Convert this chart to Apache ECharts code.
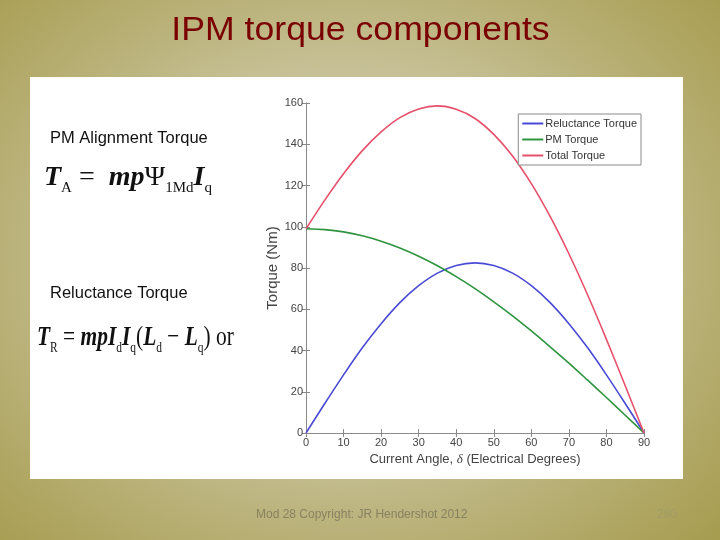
<!DOCTYPE html>
<html><head><meta charset="utf-8">
<script src="https://cdn.jsdelivr.net/npm/echarts@6/dist/echarts.min.js"></script>
<style>
html,body{margin:0;padding:0;width:720px;height:540px;overflow:hidden;}
body{background:radial-gradient(ellipse 75% 80% at 48% 48%, #dcd8c2 0%, #cdc7a4 35%, #b8b076 65%, #a39848 100%);}
#c{width:720px;height:540px;}
</style></head>
<body><div id="c"></div>
<script>
const angles = [0,5,10,15,20,25,30,35,40,45,50,55,60,65,70,75,80,85,90];
const reluctanceTorque = [0,14.3,28.2,41.3,53.0,63.2,71.4,77.5,81.2,82.5,81.2,77.5,71.4,63.2,53.0,41.3,28.2,14.3,0];
const pmTorque = [99,98.6,97.5,95.6,93.0,89.7,85.7,81.1,75.8,70.0,63.6,56.8,49.5,41.8,33.9,25.6,17.2,8.6,0];
const totalTorque = [99,112.9,125.7,136.9,146.0,152.9,157.1,158.6,157.0,152.5,144.8,134.3,120.9,105.0,86.9,66.9,45.4,22.9,0];
const xTicks = [0,10,20,30,40,50,60,70,80,90];
const yTicks = [0,20,40,60,80,100,120,140,160];
const seriesNames = ['Reluctance Torque','PM Torque','Total Torque'];

const pairs = a => angles.map((x,i)=>[x,a[i]]);
const chart = echarts.init(document.getElementById('c'), null, {renderer:'canvas'});
const sans = 'Liberation Sans, Arial';
const serif = 'Liberation Serif, Times New Roman';
const axisLine = {show:true, lineStyle:{color:'#8a8a8a', width:1}};
const tickStyle = {show:true, inside:true, length:4, lineStyle:{color:'#8a8a8a'}};
const lblStyle = {color:'#444', fontSize:11, fontFamily:sans};
const eqRich = {
  t:{fontFamily:serif,fontStyle:'italic',fontWeight:'bold',fontSize:28,fill:'#111'},
  u:{fontFamily:serif,fontSize:28,fill:'#111'},
  s:{fontFamily:serif,fontSize:15,fill:'#111',padding:[20,0,0,0]}
};
chart.setOption({
  backgroundColor:'transparent',
  animation:false,
  graphic:[
    {type:'rect', z:-10, shape:{x:30,y:77,width:653,height:402}, style:{fill:'#ffffff'}},
    {type:'text', x:360.5, y:31, scaleX:1.08, style:{x:0,y:0,text:'IPM torque components', fill:'#7a0000', font:'33px Liberation Sans, Arial', textAlign:'center', textVerticalAlign:'middle'}},
    {type:'text', style:{x:50,y:138,text:'PM Alignment Torque', fill:'#111', font:'16.5px Liberation Sans, Arial', textVerticalAlign:'middle'}},
    {type:'text', x:44, y:178, scaleX:1.0, style:{x:0,y:0,text:'{t|T}{s|A}{u| =  }{t|mp}{u|Ψ}{s|1Md}{t|I}{s|q}', textVerticalAlign:'middle', rich:eqRich}},
    {type:'text', style:{x:50,y:293,text:'Reluctance Torque', fill:'#111', font:'16.5px Liberation Sans, Arial', textVerticalAlign:'middle'}},
    {type:'text', x:37, y:338, scaleX:0.765, style:{x:0,y:0,text:'{t|T}{s|R}{u| = }{t|mpI}{s|d}{t|I}{s|q}{u|(}{t|L}{s|d}{u| − }{t|L}{s|q}{u|) or}', textVerticalAlign:'middle', rich:eqRich}},
    {type:'text', style:{x:256,y:515,text:'Mod 28 Copyright: JR Hendershot 2012', fill:'#878260', font:'12px Liberation Sans, Arial', textVerticalAlign:'middle'}},
    {type:'text', style:{x:657,y:515,text:'280', fill:'#a39c68', font:'12px Liberation Sans, Arial', textVerticalAlign:'middle'}}
  ],
  grid:{left:306, top:103, right:76, bottom:107, containLabel:false},
  legend:{
    data:seriesNames, orient:'vertical', right:79, top:114,
    backgroundColor:'#fff', borderColor:'#8a8a8a', borderWidth:1,
    padding:[4,4,4,4], itemGap:5, itemWidth:21, itemHeight:2, icon:'rect',
    textStyle:{color:'#333', fontSize:11, fontFamily:sans, padding:[0,0,0,-3]}
  },
  xAxis:[
    {type:'value', min:0, max:90, interval:10, position:'bottom',
     name:'Current Angle, {i|δ} (Electrical Degrees)', nameLocation:'middle', nameGap:20,
     nameTextStyle:{color:'#444', fontSize:13, fontFamily:sans, rich:{i:{fontStyle:'italic',fontFamily:serif,fontSize:13,color:'#444'}}},
     axisLine, axisTick:tickStyle, axisLabel:{...lblStyle, margin:4}, splitLine:{show:false}},
    {type:'value', min:0, max:90, interval:10, position:'top',
     axisLine, axisTick:tickStyle, axisLabel:{show:false}, splitLine:{show:false}}
  ],
  yAxis:[
    {type:'value', min:0, max:160, interval:20, position:'left',
     name:'Torque (Nm)', nameLocation:'middle', nameGap:22, nameRotate:90,
     nameTextStyle:{color:'#444', fontSize:15, fontFamily:sans},
     axisLine, axisTick:tickStyle, axisLabel:{...lblStyle, margin:3}, splitLine:{show:false}},
    {type:'value', min:0, max:160, interval:20, position:'right',
     axisLine, axisTick:tickStyle, axisLabel:{show:false}, splitLine:{show:false}}
  ],
  series:[
    {name:seriesNames[0], type:'line', data:pairs(reluctanceTorque), smooth:0.3, showSymbol:false, lineStyle:{color:'#4a4ad6', width:1.6}, itemStyle:{color:'#4a4ad6'}},
    {name:seriesNames[1], type:'line', data:pairs(pmTorque), smooth:0.3, showSymbol:false, lineStyle:{color:'#2e9440', width:1.6}, itemStyle:{color:'#2e9440'}},
    {name:seriesNames[2], type:'line', data:pairs(totalTorque), smooth:0.3, showSymbol:false, lineStyle:{color:'#e6506a', width:1.6}, itemStyle:{color:'#e6506a'}}
  ]
});
</script></body></html>
